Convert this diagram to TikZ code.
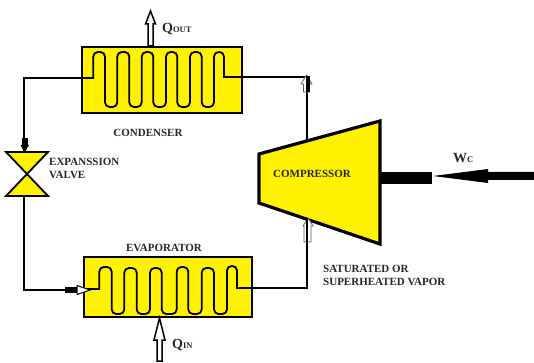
\documentclass[tikz,border=0pt]{standalone}
\usepackage{fontspec}
\setmainfont{Liberation Serif}
\definecolor{ylw}{HTML}{FFF200}
\definecolor{txt}{HTML}{262626}
\tikzset{
  unit/.style={draw=black,line width=1.8pt,fill=ylw},
  coil/.style={draw=black,line width=1.8pt,rounded corners=4.6pt},
  pipe/.style={draw=black,line width=1.9pt},
  hollow/.style={draw=black,line width=1.5pt,fill=white,line join=miter},
  thin hollow/.style={draw=gray!70!black,line width=.7pt,fill=white},
  label/.style={font=\bfseries\fontsize{11}{12}\selectfont,text=txt,inner sep=0pt},
  labelL/.style={label,anchor=west},
  sym/.style={font=\bfseries\fontsize{14}{14}\selectfont,text=txt,inner sep=0pt,anchor=west},
}
\newcommand{\qsub}[2]{#1{\fontsize{8.5}{9}\selectfont #2}}
\begin{document}
\begin{tikzpicture}[x=1pt,y=-1pt]
\useasboundingbox (0,0) rectangle (534,363);
% units
\path[unit] (82,47) rectangle (242,113);
\path[unit] (84,257) rectangle (252,317);
\coordinate (condL) at (82,78);
\coordinate (condR) at (242,77);
\coordinate (evapL) at (84,290);
\coordinate (evapR) at (252,288);
\coordinate (corner1) at (24,78);
\coordinate (corner2) at (24,290);
\coordinate (corner3) at (307,77);
\coordinate (corner4) at (307,288);
\coordinate (compOut) at (307,140);
\coordinate (compIn) at (307,217);
\coordinate (valveT) at (24,152);
\coordinate (valveB) at (24,196);
% pipes
\draw[pipe] (condL) -- (corner1) -- (valveT);
\draw[pipe] (valveB) -- (corner2) -- (evapL);
\draw[pipe] (condR) -- (corner3) -- (compOut);
\draw[pipe] (evapR) -- (corner4) -- (compIn);
% coils
\draw[coil] (82,78) [sharp corners] -- (93.3,78) [rounded corners=4.6pt]
 -- (93.3,52) -- (105,52) -- (105,107) -- (117.3,107) -- (117.3,52) -- (129.3,52)
 -- (129.3,107) -- (141.7,107) -- (141.7,52) -- (153.3,52) -- (153.3,107) -- (166,107)
 -- (166,52) -- (177.3,52) -- (177.3,107) -- (190,107) -- (190,52) -- (201.7,52)
 -- (201.7,107) -- (214,107) -- (214,52) -- (224,52) [sharp corners] -- (224,77) -- (242,77);
\draw[coil] (84,289) [sharp corners] -- (99.3,289) [rounded corners=4.6pt]
 -- (99.3,267) -- (111.7,267) -- (111.7,314) -- (124.3,314) -- (124.3,268) -- (136.7,268)
 -- (136.7,314) -- (150,314) -- (150,268) -- (161.7,268) -- (161.7,314) -- (176.7,314)
 -- (176.7,267) -- (188.3,267) -- (188.3,314) -- (201.7,314) -- (201.7,268) -- (214,268)
 -- (214,314) -- (227,314) -- (227,266) -- (237,266) [sharp corners] -- (237,288) -- (252,288);
% valve
\path[unit,line join=miter] (6,152) -- (48,152) -- (6,196) -- (48,196) -- cycle;
% compressor
\path[unit,line width=3.2pt,line join=miter] (259,154) -- (380,121) -- (380,244) -- (259,203) -- cycle;
% shaft and work arrow
\fill[black] (381,172) rectangle (432,184);
\fill[black] (433,176) -- (488,169) -- (488,172) -- (534,172) -- (534,180) -- (488,180) -- (488,183) -- cycle;
% heat arrows
\path[hollow] (150.5,11) -- (155.5,24) -- (153,24) -- (153,46) -- (148,46) -- (148,24) -- (145.5,24) -- cycle;
\path[hollow] (159.5,318) -- (165,340) -- (162,340) -- (162,361) -- (157,361) -- (157,340) -- (154,340) -- cycle;
% flow arrows
\path[thin hollow] (306.5,75) -- (312,84) -- (309.5,84) -- (309.5,92) -- (303.5,92) -- (303.5,84) -- (301,84) -- cycle;
\fill[black] (306,76) rectangle (310,92);
\path[thin hollow] (308,218) -- (313,226) -- (311,226) -- (311,242) -- (304,242) -- (304,226) -- (303,226) -- cycle;
\draw[pipe,line width=2.4pt] (307,218) -- (307,242);
\fill[black] (22,138) rectangle (27.5,146);
\fill[black] (20.5,145) -- (29,145) -- (24.5,153) -- cycle;
\fill[black] (65,286.5) rectangle (78,293);
\path[draw=black,line width=1pt,fill=white] (90,290) -- (77,285.5) -- (77,294.5) -- cycle;
% labels
\node[label] (cond) at (148,133) {CONDENSER};
\node[label] (evap) at (164,248) {EVAPORATOR};
\node[label] (comp) at (312,174) {COMPRESSOR};
\node[labelL] (exp1) at (49,162) {EXPANSSION};
\node[labelL] (exp2) at (49,175) {VALVE};
\node[labelL] (sat1) at (323,269) {SATURATED OR};
\node[labelL] (sat2) at (323,282) {SUPERHEATED VAPOR};
\node[sym] (qout) at (162,29) {\qsub{Q}{OUT}};
\node[sym] (qin) at (172,345) {\qsub{Q}{IN}};
\node[sym] (wc) at (453,158) {\qsub{W}{C}};
\end{tikzpicture}
\end{document}
